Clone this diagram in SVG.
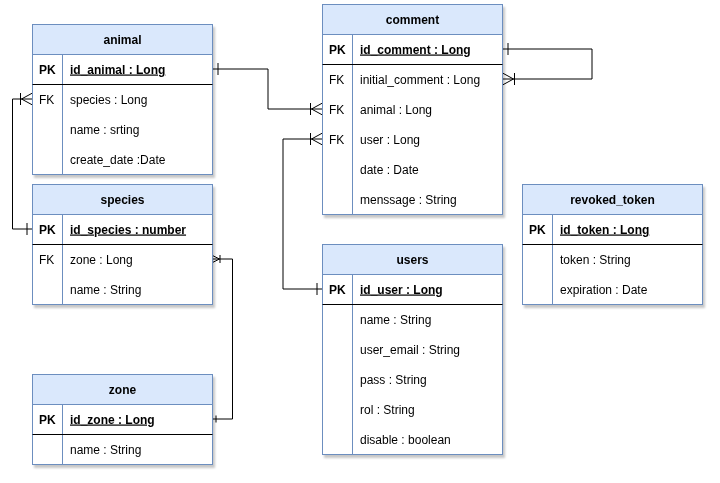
<svg xmlns="http://www.w3.org/2000/svg" width="720" height="483" viewBox="0 0 720 483">
<defs>
<style>
.tb{fill:#ffffff;stroke:#6c8ebf;stroke-width:1}
.hd{fill:#dae8fc;stroke:#6c8ebf;stroke-width:1}
.vd{stroke:#6c8ebf;stroke-width:1}
.pl{stroke:#000000;stroke-width:1}
text{font-family:"Liberation Sans",Arial,Helvetica,sans-serif;font-size:12px;fill:#000000}
.h{font-weight:bold;text-anchor:middle}
.k{text-anchor:start}
.pk{font-weight:bold;text-decoration:underline}
.kb{font-weight:bold}
.c{fill:none;stroke:#000000;stroke-width:1}
</style>
<filter id="sh" x="-10%" y="-10%" width="130%" height="130%">
<feDropShadow dx="2" dy="3" stdDeviation="1.2" flood-color="#000000" flood-opacity="0.22"/>
</filter>
<marker id="one" markerUnits="userSpaceOnUse" viewBox="-16 -8 18 16" refX="0" refY="0" markerWidth="18" markerHeight="16" orient="auto-start-reverse" overflow="visible">
<path d="M-5.5,-6 L-5.5,6" fill="none" stroke="#000" stroke-width="1"/>
</marker>
<marker id="many" markerUnits="userSpaceOnUse" viewBox="-16 -8 18 16" refX="0" refY="0" markerWidth="18" markerHeight="16" orient="auto" overflow="visible">
<path d="M0,-6 L-11,0 L0,6 M-12,-6 L-12,6" fill="none" stroke="#000" stroke-width="1"/>
</marker>
<marker id="oneS" markerUnits="userSpaceOnUse" viewBox="-16 -8 18 16" refX="0" refY="0" markerWidth="18" markerHeight="16" orient="auto-start-reverse" overflow="visible">
<path d="M-3.5,-3.5 L-3.5,3.5" fill="none" stroke="#000" stroke-width="1"/>
</marker>
<marker id="manyS" markerUnits="userSpaceOnUse" viewBox="-16 -8 18 16" refX="0" refY="0" markerWidth="18" markerHeight="16" orient="auto" overflow="visible">
<path d="M0,-3.5 L-7,0 L0,3.5 M-7.5,-4 L-7.5,4" fill="none" stroke="#000" stroke-width="1"/>
</marker>
</defs>
<rect x="0" y="0" width="720" height="483" fill="#ffffff"/>

<g id="connectors">
<path class="c" d="M212.5,69 L268,69 L268,109 L322.5,109" marker-start="url(#one)" marker-end="url(#many)"/>
<path class="c" d="M322.5,289 L283,289 L283,139 L322.5,139" marker-start="url(#one)" marker-end="url(#many)"/>
<path class="c" d="M502.5,49 L592,49 L592,79 L502.5,79" marker-start="url(#one)" marker-end="url(#many)"/>
<path class="c" d="M32.5,229 L12.5,229 L12.5,99 L32.5,99" marker-start="url(#one)" marker-end="url(#many)"/>
<path class="c" d="M212.5,419 L232.5,419 L232.5,259 L212.5,259" marker-start="url(#oneS)" marker-end="url(#manyS)"/>
</g>

<g id="animal" filter="url(#sh)">
<rect class="tb" x="32.5" y="24.5" width="180" height="150"/>
<rect class="hd" x="32.5" y="24.5" width="180" height="30"/>
<line class="vd" x1="62.5" y1="54.5" x2="62.5" y2="174.5"/>
<line class="pl" x1="32.5" y1="84.5" x2="212.5" y2="84.5"/>
<text class="h" x="122.5" y="43.5">animal</text>
<text class="kb" x="39" y="73.5">PK</text>
<text class="pk" x="70" y="73.5">id_animal : Long</text>
<text x="39" y="103.5">FK</text>
<text x="70" y="103.5">species : Long</text>
<text x="70" y="133.5">name : srting</text>
<text x="70" y="163.5">create_date :Date</text>
</g>

<g id="species" filter="url(#sh)">
<rect class="tb" x="32.5" y="184.5" width="180" height="120"/>
<rect class="hd" x="32.5" y="184.5" width="180" height="30"/>
<line class="vd" x1="62.5" y1="214.5" x2="62.5" y2="304.5"/>
<line class="pl" x1="32.5" y1="244.5" x2="212.5" y2="244.5"/>
<text class="h" x="122.5" y="203.5">species</text>
<text class="kb" x="39" y="233.5">PK</text>
<text class="pk" x="70" y="233.5">id_species : number</text>
<text x="39" y="263.5">FK</text>
<text x="70" y="263.5">zone : Long</text>
<text x="70" y="293.5">name : String</text>
</g>

<g id="zone" filter="url(#sh)">
<rect class="tb" x="32.5" y="374.5" width="180" height="90"/>
<rect class="hd" x="32.5" y="374.5" width="180" height="30"/>
<line class="vd" x1="62.5" y1="404.5" x2="62.5" y2="464.5"/>
<line class="pl" x1="32.5" y1="434.5" x2="212.5" y2="434.5"/>
<text class="h" x="122.5" y="393.5">zone</text>
<text class="kb" x="39" y="423.5">PK</text>
<text class="pk" x="70" y="423.5">id_zone : Long</text>
<text x="70" y="453.5">name : String</text>
</g>

<g id="comment" filter="url(#sh)">
<rect class="tb" x="322.5" y="4.5" width="180" height="210"/>
<rect class="hd" x="322.5" y="4.5" width="180" height="30"/>
<line class="vd" x1="352.5" y1="34.5" x2="352.5" y2="214.5"/>
<line class="pl" x1="322.5" y1="64.5" x2="502.5" y2="64.5"/>
<text class="h" x="412.5" y="23.5">comment</text>
<text class="kb" x="329" y="53.5">PK</text>
<text class="pk" x="360" y="53.5">id_comment : Long</text>
<text x="329" y="83.5">FK</text>
<text x="360" y="83.5">initial_comment : Long</text>
<text x="329" y="113.5">FK</text>
<text x="360" y="113.5">animal : Long</text>
<text x="329" y="143.5">FK</text>
<text x="360" y="143.5">user : Long</text>
<text x="360" y="173.5">date : Date</text>
<text x="360" y="203.5">menssage : String</text>
</g>

<g id="users" filter="url(#sh)">
<rect class="tb" x="322.5" y="244.5" width="180" height="210"/>
<rect class="hd" x="322.5" y="244.5" width="180" height="30"/>
<line class="vd" x1="352.5" y1="274.5" x2="352.5" y2="454.5"/>
<line class="pl" x1="322.5" y1="304.5" x2="502.5" y2="304.5"/>
<text class="h" x="412.5" y="263.5">users</text>
<text class="kb" x="329" y="293.5">PK</text>
<text class="pk" x="360" y="293.5">id_user : Long</text>
<text x="360" y="323.5">name : String</text>
<text x="360" y="353.5">user_email : String</text>
<text x="360" y="383.5">pass : String</text>
<text x="360" y="413.5">rol : String</text>
<text x="360" y="443.5">disable : boolean</text>
</g>

<g id="revoked_token" filter="url(#sh)">
<rect class="tb" x="522.5" y="184.5" width="180" height="120"/>
<rect class="hd" x="522.5" y="184.5" width="180" height="30"/>
<line class="vd" x1="552.5" y1="214.5" x2="552.5" y2="304.5"/>
<line class="pl" x1="522.5" y1="244.5" x2="702.5" y2="244.5"/>
<text class="h" x="612.5" y="203.5">revoked_token</text>
<text class="kb" x="529" y="233.5">PK</text>
<text class="pk" x="560" y="233.5">id_token : Long</text>
<text x="560" y="263.5">token : String</text>
<text x="560" y="293.5">expiration : Date</text>
</g>
</svg>
